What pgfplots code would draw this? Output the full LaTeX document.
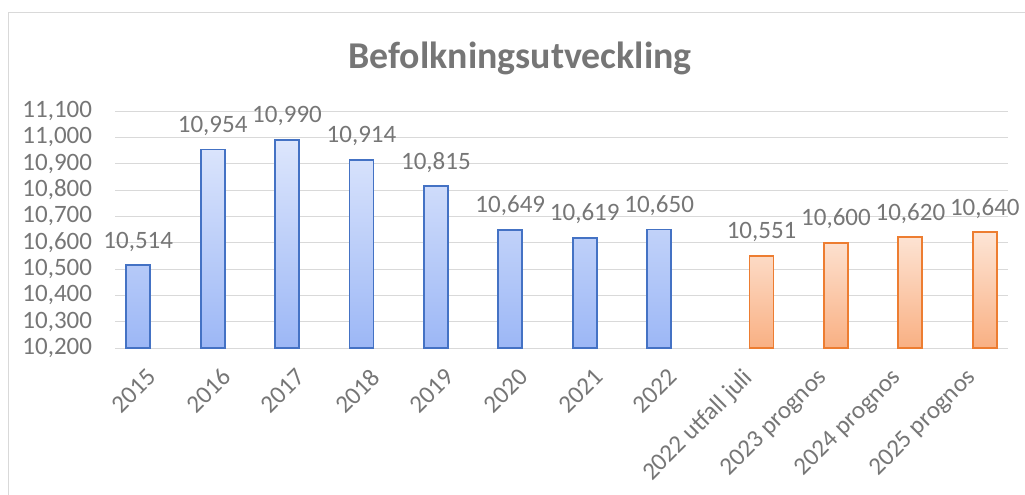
\documentclass[border=0pt]{standalone}
\usepackage{pgfplots}
\pgfplotsset{compat=1.18}
\usepackage{fontspec}
\setmainfont{Carlito}
\definecolor{txt}{HTML}{767676}
\definecolor{gridc}{HTML}{D9D9D9}
\definecolor{bluel}{HTML}{4472C4}
\definecolor{bluetop}{HTML}{DDE6FC}
\definecolor{bluebot}{HTML}{9CB7F6}
\definecolor{orl}{HTML}{ED7D31}
\definecolor{ortop}{HTML}{FDE5D6}
\definecolor{orbot}{HTML}{F9B083}
\begin{document}
\begin{tikzpicture}[x=1pt,y=1pt]
\path[use as bounding box] (0,0) rectangle (768.75,-370.5);
\draw[gridc, line width=0.9pt] (6.4,-380) -- (6.4,-9.4) -- (780,-9.4);
\node[anchor=base, text=txt, font=\fontsize{28.4}{32}\selectfont\bfseries] at (390,-51) {Befolkningsutveckling};
\begin{axis}[
  at={(86.25pt,-261pt)}, anchor=south west,
  scale only axis, width=669.75pt, height=177.75pt,
  xmin=-0.5, xmax=11.5, ymin=10200, ymax=11100,
  ytick={10200,10300,...,11100},
  scaled y ticks=false,
  xtick={0,...,11},
  xticklabels={2015,2016,2017,2018,2019,2020,2021,2022,2022 utfall juli,2023 prognos,2024 prognos,2025 prognos},
  /pgf/number format/assume math mode=true,
  /pgf/number format/1000 sep={,},
  yticklabel={\pgfmathprintnumber[fixed,precision=0,1000 sep={,}]{\tick}},
  ymajorgrids, grid style={gridc, line width=0.75pt},
  axis y line=left, y axis line style={draw=none},
  axis x line=bottom, x axis line style={gridc, line width=0.75pt, -},
  major tick length=0pt,
  tick label style={text=txt, font=\fontsize{18.75}{22}\selectfont},
  yticklabel style={anchor=east, inner sep=0pt, xshift=-17pt},
  xticklabel style={xshift=-4.5pt, yshift=-14pt, rotate=45, anchor=north east, inner sep=0pt},
  ybar, bar width=18pt,
  nodes near coords,
  nodes near coords style={text=txt, font=\fontsize{18.75}{22}\selectfont, anchor=base, inner sep=0pt, yshift=12.75pt},
  clip=false,
]
\addplot[bar shift=-10.5pt, draw=bluel, line width=1.4pt, top color=bluetop, bottom color=bluebot] coordinates {
(0,10514) (1,10954) (2,10990) (3,10914) (4,10815) (5,10649) (6,10619) (7,10650)};
\addplot[bar shift=10.5pt, draw=orl, line width=1.4pt, top color=ortop, bottom color=orbot] coordinates {
(8,10551) (9,10600) (10,10620) (11,10640)};
\end{axis}
\end{tikzpicture}
\end{document}
